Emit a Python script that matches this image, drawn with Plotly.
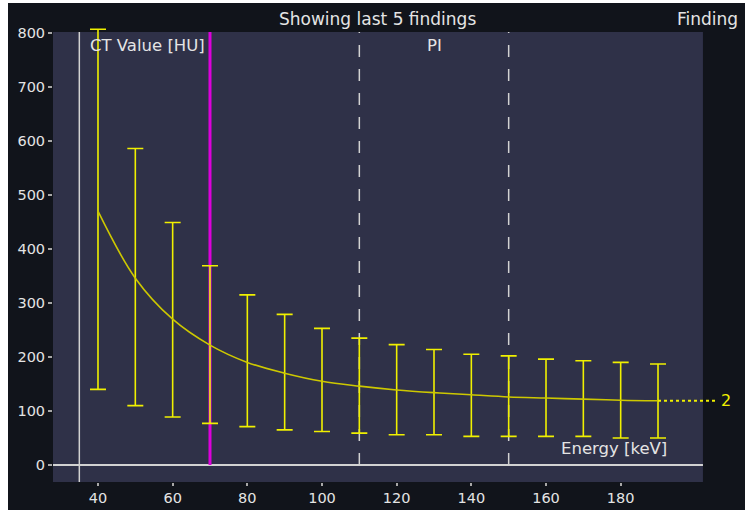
import plotly.graph_objects as go

# ---- data ----
energy = [40, 50, 60, 70, 80, 90, 100, 110, 120, 130, 140, 150, 160, 170, 180, 190]
ct_mean = [470, 346, 270, 222, 190, 170, 155, 146, 139, 134, 130, 126, 124, 122, 120, 119]
ct_upper = [807, 586, 449, 369, 315, 279, 253, 235, 223, 214, 205, 202, 196, 193, 190, 187]
ct_lower = [140, 110, 89, 77, 71, 65, 62, 59, 56, 56, 53, 53, 53, 53, 50, 50]
x_ticks = [40, 60, 80, 100, 120, 140, 160, 180]
y_ticks = [0, 100, 200, 300, 400, 500, 600, 700, 800]
ref_energy = 35
selected_energy = 70
pi_bounds = [110, 150]
finding_label = "2"
leader_end = 206

# ---- style / frame ----
X_RECT = [27.95, 202.04]
Y_RECT = [-31.5, 801.9]
X_RANGE = [27.95, 213.3]
Y_RANGE = [-31.5, 855.6]
DARK = "#11141b"
PANEL = "#2f3148"
TXT = "#e4e4e4"
LINE_W = "#d2d2d2"
YEL = "#f0f000"
CURVE = "#cdc800"
FONT = "DejaVu Sans"

err_plus = [u - m for u, m in zip(ct_upper, ct_mean)]
err_minus = [m - l for m, l in zip(ct_mean, ct_lower)]

fig = go.Figure()
fig.add_trace(go.Scatter(
    x=energy, y=ct_mean, mode="lines",
    line=dict(color=CURVE, width=1.6, shape="spline"),
    error_y=dict(type="data", symmetric=False, array=err_plus, arrayminus=err_minus,
                 color=YEL, thickness=1.6, width=8),
    showlegend=False, hoverinfo="skip",
))
fig.add_trace(go.Scatter(
    x=[energy[-1], leader_end], y=[ct_mean[-1], ct_mean[-1]], mode="lines",
    line=dict(color=YEL, width=2, dash="dot"),
    showlegend=False, hoverinfo="skip",
))

shapes = [
    dict(type="rect", xref="x", yref="y", x0=X_RECT[0], x1=X_RECT[1], y0=Y_RECT[0], y1=Y_RECT[1],
         fillcolor=PANEL, line=dict(width=0), layer="below"),
    dict(type="line", xref="x", yref="y", x0=X_RECT[0], x1=X_RECT[1], y0=0, y1=0,
         line=dict(color=LINE_W, width=2), layer="below"),
    dict(type="line", xref="x", yref="y", x0=ref_energy, x1=ref_energy, y0=Y_RECT[0], y1=Y_RECT[1],
         line=dict(color=LINE_W, width=1.5), layer="below"),
    dict(type="line", xref="x", yref="y", x0=selected_energy, x1=selected_energy, y0=0, y1=Y_RECT[1],
         line=dict(color="#dc00dc", width=3), layer="below"),
]
for b in pi_bounds:
    shapes.append(dict(type="line", xref="x", yref="y", x0=b, x1=b, y0=0, y1=Y_RECT[1],
                       line=dict(color=LINE_W, width=1.5, dash="12px,12px"), layer="below"))

annotations = [
    dict(text="Showing last 5 findings", xref="x", yref="paper",
         x=(X_RECT[0] + X_RECT[1]) / 2, y=1, xanchor="center", yanchor="top", yshift=-4,
         showarrow=False, font=dict(family=FONT, size=17, color=TXT)),
    dict(text="Finding", xref="paper", yref="paper", x=1, y=1, xanchor="right", yanchor="top",
         xshift=-5, yshift=-4, showarrow=False, font=dict(family=FONT, size=17, color=TXT)),
    dict(text="CT Value [HU]", xref="x", yref="y", x=ref_energy, y=Y_RECT[1], xanchor="left",
         yanchor="top", xshift=9, yshift=-2, showarrow=False,
         font=dict(family=FONT, size=16.5, color=TXT)),
    dict(text="PI", xref="x", yref="y", x=(pi_bounds[0] + pi_bounds[1]) / 2, y=Y_RECT[1],
         xanchor="center", yanchor="top", yshift=-2, showarrow=False,
         font=dict(family=FONT, size=16.5, color=TXT)),
    dict(text="Energy [keV]", xref="x", yref="y", x=X_RECT[1], y=0, xanchor="right",
         yanchor="bottom", xshift=-34, yshift=5, showarrow=False,
         font=dict(family=FONT, size=16.5, color=TXT)),
    dict(text=finding_label, xref="x", yref="y", x=leader_end, y=ct_mean[-1], xanchor="left",
         yanchor="middle", xshift=1, showarrow=False,
         font=dict(family=FONT, size=16, color=YEL)),
]

fig.update_layout(
    width=737, height=507, autosize=False,
    margin=dict(l=45, r=0, t=0, b=28, pad=0),
    paper_bgcolor=DARK, plot_bgcolor=DARK,
    shapes=shapes, annotations=annotations,
    xaxis=dict(range=X_RANGE, tickvals=x_ticks, showgrid=False, zeroline=False, showline=False,
               ticks="outside", ticklen=3, tickwidth=1.5, tickcolor="#a8a8a8",
               tickfont=dict(family=FONT, size=14.5, color=TXT), fixedrange=True),
    yaxis=dict(range=Y_RANGE, tickvals=y_ticks, showgrid=False, zeroline=False, showline=False,
               ticks="outside", ticklen=4, tickwidth=1.5, tickcolor="#a8a8a8",
               tickfont=dict(family=FONT, size=14.5, color=TXT), fixedrange=True),
    showlegend=False,
)

fig.write_html(
    "out.html",
    config={"displayModeBar": False},
    post_script="document.body.style.margin='3px 0 0 8px';document.body.style.overflow='hidden';",
)
